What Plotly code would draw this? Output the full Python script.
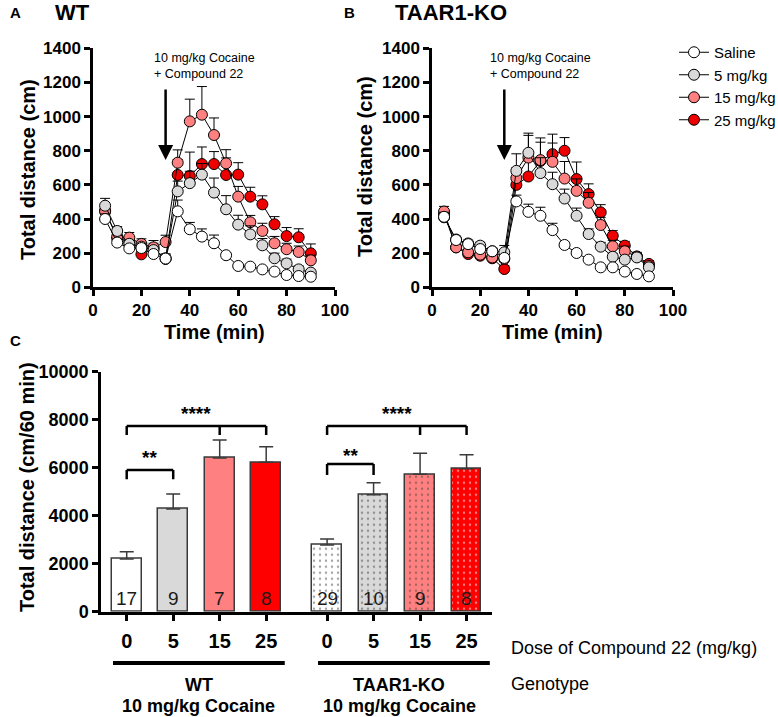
import plotly.graph_objects as go

# ---------------- data ----------------
time_min = [5, 10, 15, 20, 25, 30, 35, 40, 45, 50, 55, 60, 65, 70, 75, 80, 85, 90]
series_names = ["Saline", "5 mg/kg", "15 mg/kg", "25 mg/kg"]
series_colors = ["#FFFFFF", "#D9D9D9", "#FF8080", "#EE0000"]

# Panel A (WT) means and SEM
wt_saline = [400, 262, 228, 230, 195, 168, 445, 340, 297, 258, 188, 125, 121, 105, 92, 72, 66, 62]
wt_5 = [478, 330, 255, 238, 218, 170, 562, 610, 660, 555, 457, 367, 310, 246, 170, 140, 105, 86]
wt_15 = [443, 297, 291, 254, 234, 265, 730, 972, 1011, 892, 726, 531, 381, 330, 258, 223, 207, 158]
wt_25 = [450, 287, 268, 193, 228, 166, 658, 652, 722, 722, 658, 660, 531, 486, 369, 300, 293, 199]
wt_saline_sem = [30, 20, 20, 15, 15, 20, 66, 40, 45, 48, 15, 10, 10, 10, 10, 10, 10, 10]
wt_5_sem = [43, 25, 20, 20, 20, 20, 60, 70, 65, 85, 80, 55, 50, 40, 30, 25, 20, 15]
wt_15_sem = [30, 25, 30, 30, 40, 40, 75, 130, 165, 100, 80, 60, 40, 45, 40, 35, 35, 30]
wt_25_sem = [35, 25, 25, 30, 30, 30, 90, 140, 100, 73, 100, 70, 55, 50, 45, 50, 50, 55]

# Panel B (TAAR1-KO) means and SEM
ko_saline = [413, 277, 253, 224, 211, 172, 503, 442, 419, 335, 248, 201, 162, 117, 117, 92, 78, 64]
ko_5 = [410, 280, 257, 244, 211, 205, 682, 788, 669, 604, 520, 419, 312, 238, 179, 162, 175, 117]
ko_15 = [444, 234, 205, 191, 175, 166, 640, 760, 745, 735, 637, 565, 495, 365, 240, 211, 180, 125]
ko_25 = [430, 234, 195, 185, 170, 107, 600, 649, 740, 780, 800, 634, 546, 439, 302, 244, 180, 137]
ko_saline_sem = [20, 15, 15, 15, 15, 20, 37, 45, 50, 40, 15, 10, 10, 10, 10, 10, 10, 10]
ko_5_sem = [30, 20, 20, 20, 20, 40, 100, 115, 90, 70, 55, 45, 30, 25, 20, 20, 15, 15]
ko_15_sem = [30, 20, 20, 20, 20, 20, 60, 130, 130, 110, 100, 70, 60, 45, 35, 30, 25, 20]
ko_25_sem = [25, 20, 20, 20, 20, 20, 40, 90, 110, 117, 77, 100, 60, 45, 30, 25, 20, 20]

# Panel C (cumulative 60 min)
dose_labels = ["0", "5", "15", "25"]
bar_colors = ["#FFFFFF", "#D9D9D9", "#FF8080", "#FF0000"]
wt_bar_mean = [2194, 4278, 6403, 6222]
wt_bar_sem = [306, 625, 750, 653]
ko_bar_mean = [2778, 4875, 5722, 5958]
ko_bar_sem = [250, 500, 875, 584]
wt_n = [17, 9, 7, 8]
ko_n = [29, 10, 9, 8]

# ---------------- layout helpers ----------------
W, H = 778, 717
def px(x):
    return x / W
def py(y):
    return 1 - y / H

FONT = "Liberation Sans"
GROUP_OFFSET = 4.31
wt_pos = [i for i in range(len(dose_labels))]
ko_pos = [i + GROUP_OFFSET for i in range(len(dose_labels))]

fig = go.Figure()

panelA = [wt_saline, wt_5, wt_15, wt_25]
panelA_sem = [wt_saline_sem, wt_5_sem, wt_15_sem, wt_25_sem]
panelB = [ko_saline, ko_5, ko_15, ko_25]
panelB_sem = [ko_saline_sem, ko_5_sem, ko_15_sem, ko_25_sem]

# draw red first so saline ends up on top
order = [3, 2, 1, 0]
for (vals, sems, xa, ya, showleg) in [(panelA, panelA_sem, "x", "y", True),
                                      (panelB, panelB_sem, "x2", "y2", False)]:
    for i in order:
        fig.add_trace(go.Scatter(
            x=time_min, y=vals[i], xaxis=xa, yaxis=ya,
            mode="lines+markers", name=series_names[i],
            legendgroup=series_names[i], showlegend=showleg,
            legendrank=i + 1,
            line=dict(color="#000000", width=1),
            marker=dict(symbol="circle", size=11, color=series_colors[i],
                        line=dict(color="#000000", width=1)),
            error_y=dict(type="data", array=sems[i], arrayminus=[0] * len(sems[i]),
                         symmetric=False, color="#000000", thickness=1, width=5),
        ))

# bars
for pos, means, sems, ns, patterned in [(wt_pos, wt_bar_mean, wt_bar_sem, wt_n, False),
                                        (ko_pos, ko_bar_mean, ko_bar_sem, ko_n, True)]:
    marker = dict(color=bar_colors, line=dict(color="#3a3a3a", width=1.5))
    if patterned:
        marker["pattern"] = dict(shape=".", fgcolor="#555555", size=6, solidity=0.12,
                                 fillmode="overlay")
    fig.add_trace(go.Bar(
        x=pos, y=means, xaxis="x3", yaxis="y3", width=0.64, showlegend=False,
        marker=marker,
        error_y=dict(type="data", array=sems, arrayminus=[0] * len(sems), symmetric=False,
                     color="#3a3a3a", thickness=1.5, width=7),
    ))

axis_common = dict(showline=True, linecolor="#000000", linewidth=2.5, ticks="outside",
                   ticklen=6, tickwidth=2.5, tickcolor="#000000", showgrid=False,
                   zeroline=False, automargin=False,
                   tickfont=dict(family=FONT, size=17, color="#000000", weight="bold"))

fig.update_layout(
    template="none",
    width=W, height=H, autosize=False,
    margin=dict(l=0, r=0, t=0, b=0, pad=0, autoexpand=False),
    paper_bgcolor="white", plot_bgcolor="white",
    bargap=0,
    xaxis=dict(domain=[px(93), px(335)], range=[0, 100], tickvals=[0, 20, 40, 60, 80, 100],
               anchor="y", **axis_common),
    yaxis=dict(domain=[py(287.3), py(48.3)], range=[0, 1400], dtick=200, anchor="x",
               tickformat="d", **axis_common),
    xaxis2=dict(domain=[px(432), px(673)], range=[0, 100], tickvals=[0, 20, 40, 60, 80, 100],
                anchor="y2", **axis_common),
    yaxis2=dict(domain=[py(287.3), py(48.3)], range=[0, 1400], dtick=200, anchor="x2",
                tickformat="d", **axis_common),
    xaxis3=dict(domain=[px(101), px(492)], range=[-0.553, 7.857],
                tickvals=wt_pos + ko_pos, ticktext=dose_labels + dose_labels,
                anchor="y3", ticklabelstandoff=3,
                **{**axis_common, "ticklen": 7,
                   "tickfont": dict(family=FONT, size=20, color="#000000", weight="bold")}),
    yaxis3=dict(domain=[py(611.7), py(371.7)], range=[0, 10000], dtick=2000, anchor="x3",
                tickformat="d",
                **{**axis_common,
                   "tickfont": dict(family=FONT, size=18, color="#000000", weight="bold")}),
    legend=dict(x=px(674), y=py(36), xanchor="left", yanchor="top",
                font=dict(family=FONT, size=15, color="#000000"),
                bgcolor="rgba(0,0,0,0)", tracegroupgap=0, itemwidth=30,
                borderwidth=0),
    font=dict(family=FONT, color="#000000"),
)

ann = []
def text(x, y, s, size, bold=False, xanchor="center", yanchor="middle", angle=0,
         xref="paper", yref="paper", align="center", color="#000000"):
    ann.append(dict(x=x, y=y, xref=xref, yref=yref, text=s, showarrow=False,
                    xanchor=xanchor, yanchor=yanchor, textangle=angle, align=align,
                    font=dict(family=FONT, size=size, color=color,
                              weight="bold" if bold else "normal")))

# panel letters and titles
text(px(8), py(12), "A", 15, True, xanchor="left")
text(px(53), py(13), "WT", 22, True, xanchor="left")
text(px(342), py(12), "B", 15, True, xanchor="left")
text(px(393), py(13), "TAAR1-KO", 22, True, xanchor="left")
text(px(8), py(340), "C", 15, True, xanchor="left")

# axis titles
text(px(28), py(170), "Total distance (cm)", 20, True, angle=-90)
text(px(365), py(167), "Total distance (cm)", 20, True, angle=-90)
text(px(27), py(487), "Total distance (cm/60 min)", 20, True, angle=-90)
text(px(214), py(332), "Time (min)", 20, True)
text(px(552), py(332), "Time (min)", 20, True)

# injection arrows and labels
for xa, ya, xl in [("x", "y", 24.2), ("x2", "y2", 23.4)]:
    ann.append(dict(x=30, y=745, ax=30, ay=1167, xref=xa, yref=ya, axref=xa, ayref=ya,
                    text="", showarrow=True, arrowhead=2, arrowsize=1.2, arrowwidth=2.5,
                    arrowcolor="#000000", standoff=0, startstandoff=0))
    text(xl, 1395, "10 mg/kg Cocaine<br>+ Compound 22", 12.5, xanchor="left",
         yanchor="top", xref=xa, yref=ya, align="left")

# n labels in bars
for pos, ns in [(wt_pos, wt_n), (ko_pos, ko_n)]:
    for p, n in zip(pos, ns):
        ann.append(dict(x=p, y=0, xref="x3", yref="y3", text=str(n), showarrow=False,
                        yanchor="bottom", yshift=1,
                        font=dict(family=FONT, size=19, color="#1a1a1a")))

# significance labels
text((wt_pos[0] + wt_pos[3]) / 2, 8267, "****", 19, True, xref="x3", yref="y3")
text((wt_pos[0] + wt_pos[1]) / 2, 6433, "**", 19, True, xref="x3", yref="y3")
text((ko_pos[0] + ko_pos[3]) / 2, 8267, "****", 19, True, xref="x3", yref="y3")
text((ko_pos[0] + ko_pos[1]) / 2, 6529, "**", 19, True, xref="x3", yref="y3")

# group labels
text((wt_pos[0] + wt_pos[3]) / 2 + 0.05, py(685), "WT", 18, True, xref="x3")
text((wt_pos[0] + wt_pos[3]) / 2 + 0.05, py(706), "10 mg/kg Cocaine", 18, True, xref="x3")
text((ko_pos[0] + ko_pos[3]) / 2 + 0.05, py(685), "TAAR1-KO", 18, True, xref="x3")
text((ko_pos[0] + ko_pos[3]) / 2 + 0.05, py(706), "10 mg/kg Cocaine", 18, True, xref="x3")
text(px(509), py(648), "Dose of Compound 22 (mg/kg)", 18, xanchor="left")
text(px(509), py(684), "Genotype", 18, xanchor="left")

fig.update_layout(annotations=ann)

shapes = []
def seg(x0, y0, x1, y1, xref="x3", yref="y3", w=2.5):
    shapes.append(dict(type="line", x0=x0, y0=y0, x1=x1, y1=y1, xref=xref, yref=yref,
                       line=dict(color="#000000", width=w)))

# brackets
for pos, top_y, low_y, ends in [(wt_pos, 7737, 7360, [0, 2, 3]), (ko_pos, 7737, 7360, [0, 2, 3])]:
    seg(pos[0], top_y, pos[3], top_y)
    for e in ends:
        seg(pos[e], top_y, pos[e], low_y)
for pos, top_y, low_y in [(wt_pos, 5904, 5517), (ko_pos, 6154, 5696)]:
    seg(pos[0], top_y, pos[1], top_y)
    seg(pos[0], top_y, pos[0], low_y)
    seg(pos[1], top_y, pos[1], low_y)

# group underlines
seg(wt_pos[0] - 0.295, py(663), wt_pos[3] + 0.40, py(663), yref="paper", w=4)
seg(ko_pos[0] - 0.195, py(663), ko_pos[3] + 0.50, py(663), yref="paper", w=4)

fig.update_layout(shapes=shapes)

# remove the browser's default 8 px body margin so the figure sits at the page origin
fig.write_html("out.html",
               config={"displayModeBar": False},
               post_script="document.body.style.margin='0';"
                           "document.body.style.overflow='hidden';")
